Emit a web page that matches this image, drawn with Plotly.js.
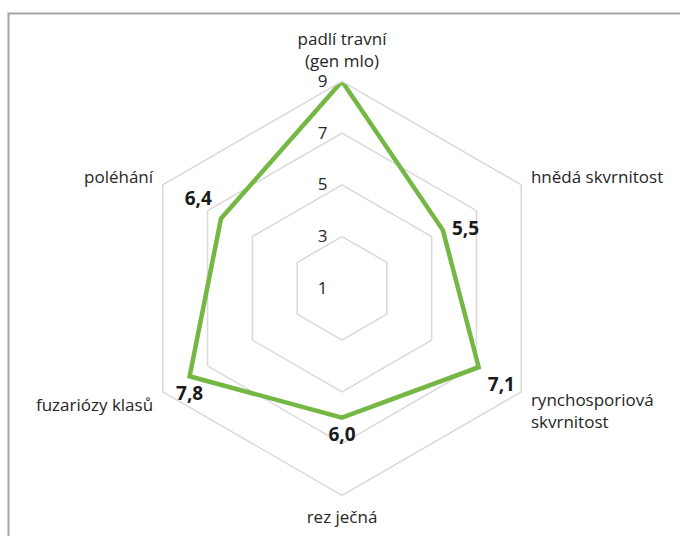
<!DOCTYPE html>
<html>
<head>
<meta charset="utf-8">
<script src="https://cdn.plot.ly/plotly-3.0.1.min.js"></script>
<style>
  html, body { margin: 0; padding: 0; background: #ffffff; }
  #chart { width: 680px; height: 536px; }
</style>
</head>
<body>
<div id="chart"></div>
<script>
// kategorie (osy radaru) a hodnoty
var kategorie = ["padlí travní<br>(gen mlo)", "hnědá skvrnitost", "rynchosporiová<br>skvrnitost", "rez ječná", "fuzariózy klasů", "poléhání"];
var hodnoty = [9, 5.5, 7.1, 6.0, 7.8, 6.4];
var popisky = ["", "5,5", "7,1", "6,0", "7,8", "6,4"];
var pozicePopisku = ["top center", "middle right", "bottom right", "bottom center", "bottom center", "top left"];
var osaTicky = [1, 3, 5, 7, 9];
var osaPopisky = ["1", "3", "5", "7", "9"];

var zelena = "#74b744";
var sedaMrizka = "#d9d9d9";
var pismo = "Open Sans, sans-serif";

// uzavreni polygonu
var r = hodnoty.concat([hodnoty[0]]);
var theta = kategorie.concat([kategorie[0]]);

var trace = {
    type: "scatterpolar",
    r: r,
    theta: theta,
    mode: "lines+markers+text",
    line: { color: zelena, width: 4.5 },
    marker: { size: 13, color: "rgba(0,0,0,0)" },
    text: popisky.concat([""]),
    textposition: pozicePopisku.concat(["top center"]),
    textfont: { family: pismo, size: 19, color: "#1a1a1a", weight: 700 },
    cliponaxis: false,
    hoverinfo: "skip"
};

var layout = {
    width: 680,
    height: 536,
    margin: { l: 0, r: 0, t: 0, b: 0 },
    paper_bgcolor: "#ffffff",
    showlegend: false,
    font: { family: pismo, size: 17, color: "#262626" },
    polar: {
        domain: { x: [0.1985, 0.8074], y: [0.0759, 0.8483] },
        bgcolor: "#ffffff",
        gridshape: "linear",
        radialaxis: {
            range: [1, 9],
            tickvals: osaTicky,
            ticktext: osaPopisky,
            angle: 90,
            tickangle: 90,
            side: "counterclockwise",
            showline: false,
            ticks: "outside",
            ticklen: 8,
            tickcolor: "rgba(0,0,0,0)",
            showgrid: true,
            gridcolor: sedaMrizka,
            gridwidth: 1.5,
            tickfont: { family: pismo, size: 17, color: "#262626" }
        },
        angularaxis: {
            direction: "clockwise",
            rotation: 90,
            showgrid: false,
            showline: true,
            linecolor: sedaMrizka,
            linewidth: 1.5,
            ticks: "outside",
            ticklen: 7,
            tickcolor: "rgba(0,0,0,0)",
            tickfont: { family: pismo, size: 17, color: "#262626" }
        }
    },
    shapes: [{
        type: "rect",
        xref: "paper", yref: "paper",
        x0: 8.5 / 680, x1: 1.2,
        y0: -0.2, y1: 1 - 13.5 / 536,
        line: { color: "#a6a6a6", width: 2 },
        fillcolor: "rgba(0,0,0,0)"
    }]
};

Plotly.newPlot("chart", [trace], layout, { staticPlot: true });
</script>
</body>
</html>
